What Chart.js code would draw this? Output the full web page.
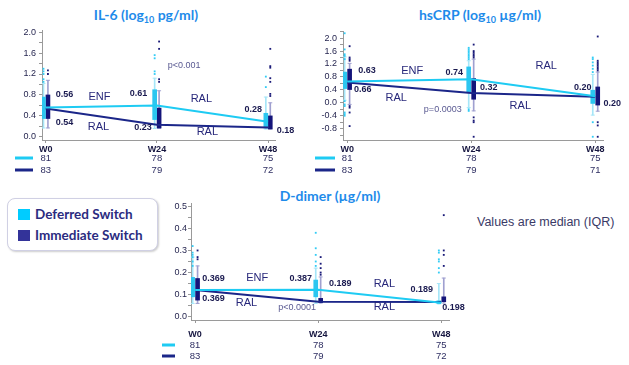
<!DOCTYPE html>
<html><head><meta charset="utf-8">
<script src="https://cdn.jsdelivr.net/npm/chart.js@4.4.1/dist/chart.umd.min.js"></script>
<style>
html,body{margin:0;padding:0;background:#fff;}
body{width:629px;height:365px;position:relative;overflow:hidden;font-family:'Liberation Sans',Arial,sans-serif;}
canvas{position:absolute;}
.title{position:absolute;font-family:Lato,'Open Sans',sans-serif;font-weight:700;color:#1E8BEA;font-size:14px;line-height:14px;white-space:nowrap;transform:translateX(-50%);}
.title sub{font-size:9px;line-height:0;vertical-align:-3px;}
#legend{position:absolute;left:7px;top:198px;width:149px;height:51px;border:1px solid #d0d0e4;border-radius:8px;box-shadow:1px 1px 2px rgba(0,0,0,0.2);background:#fff;}
.li{position:absolute;left:10px;font-family:Lato,'Open Sans',sans-serif;font-weight:700;font-size:13.5px;color:#2B2B80;white-space:nowrap;line-height:14px;}
.sw{display:inline-block;width:12px;height:11px;margin-right:5px;vertical-align:-1px;}
#note{position:absolute;left:477px;top:215px;font-size:12.5px;color:#3a3a66;white-space:nowrap;}
</style></head><body>
<div class="title" style="left:146px;top:8px">IL-6 (log<sub>10</sub> pg/ml)</div>
<div class="title" style="left:480px;top:8px">hsCRP (log<sub>10</sub> µg/ml)</div>
<div class="title" style="left:330px;top:189px">D-dimer (µg/ml)</div>
<div id="legend">
  <div class="li" style="top:8px"><span class="sw" style="background:#00CCFF"></span>Deferred Switch</div>
  <div class="li" style="top:29px"><span class="sw" style="background:#333399"></span>Immediate Switch</div>
</div>
<div id="note">Values are median (IQR)</div>
<canvas id="c1" width="300" height="180" style="left:0;top:0"></canvas>
<canvas id="c2" width="324" height="180" style="left:305px;top:0"></canvas>
<canvas id="c3" width="320" height="180" style="left:150px;top:185px"></canvas>
<script>
// ---------- data ----------
const weeks = [0, 24, 48];
const weekLabels = ['W0', 'W24', 'W48'];

// IL-6 (log10 pg/ml)
const il6DefMedian = [0.56, 0.60, 0.29];
const il6ImmMedian = [0.54, 0.23, 0.18];
const il6DefQ1 = [0.35, 0.33, 0.17];
const il6DefQ3 = [0.76, 0.90, 0.45];
const il6DefLo = [0.17, 0.16, 0.15];
const il6DefHi = [1.02, 1.12, 0.76];
const il6ImmQ1 = [0.35, 0.17, 0.15];
const il6ImmQ3 = [0.80, 0.55, 0.40];
const il6ImmLo = [0.17, 0.16, 0.15];
const il6ImmHi = [1.08, 0.88, 0.65];
const il6DefOut = [[1.05, 1.1, 1.2, 1.25, 1.3], [1.2, 1.25, 1.5, 1.56], [0.95, 1.15]];
const il6ImmOut = [[1.2, 1.27], [1.05, 1.1, 1.68, 1.82], [0.78, 0.82, 1.05, 1.12, 1.32, 1.35, 1.68]];
const il6DefN = [81, 78, 75];
const il6ImmN = [83, 79, 72];

// hsCRP (log10 ug/ml)
const crpDefMedian = [0.66, 0.73, 0.20];
const crpImmMedian = [0.63, 0.30, 0.19];
const crpDefQ1 = [0.44, 0.34, -0.02];
const crpDefQ3 = [0.95, 1.11, 0.39];
const crpDefLo = [0.08, -0.15, -0.38];
const crpDefHi = [1.42, 1.30, 0.88];
const crpImmQ1 = [0.41, 0.11, -0.07];
const crpImmQ3 = [1.04, 0.75, 0.49];
const crpImmLo = [-0.05, -0.25, -0.26];
const crpImmHi = [1.22, 1.35, 0.95];
const crpDefOut = [[2.15, 1.65, 1.5, 1.45, 1.35, 0.05, -0.05, -0.1, -0.3, -0.35, -0.4],
                   [1.35, 1.4, 1.45, 1.5, 1.55, 1.6, 1.65, 1.7, -0.2, -0.25],
                   [0.95, 1.05, 1.15, 1.25, 1.35, 1.4, -0.6, -1.05]];
const crpImmOut = [[1.3, 1.35, 1.4, 1.75, -0.1, -0.15, -0.3, -0.72],
                   [1.4, 1.45, 1.5, 1.55, 1.6, 1.8, -0.45, -0.55, -0.6, -1.05],
                   [1.0, 1.05, 1.1, 1.15, 1.2, 1.25, 1.3, 2.05, -0.6, -0.7, -1.05]];
const crpDefN = [81, 78, 75];
const crpImmN = [83, 79, 71];

// D-dimer (ug/ml)
const ddDefMedian = [0.121, 0.122, 0.063];
const ddImmMedian = [0.121, 0.068, 0.066];
const ddDefQ1 = [0.09, 0.09, 0.06];
const ddDefQ3 = [0.178, 0.166, 0.072];
const ddDefLo = [0.06, 0.06, 0.058];
const ddDefHi = [0.27, 0.22, 0.15];
const ddImmQ1 = [0.075, 0.064, 0.068];
const ddImmQ3 = [0.173, 0.083, 0.09];
const ddImmLo = [0.06, 0.062, 0.062];
const ddImmHi = [0.23, 0.18, 0.175];
const ddDefOut = [[0.23, 0.25, 0.27, 0.28, 0.29, 0.32], [0.23, 0.25, 0.28, 0.31, 0.38], [0.2, 0.22, 0.25, 0.26, 0.29, 0.3]];
const ddImmOut = [[0.26, 0.27, 0.3], [0.19, 0.2, 0.22, 0.24, 0.27], [0.23, 0.28, 0.3, 0.46]];
const ddDefN = [81, 78, 75];
const ddImmN = [83, 79, 72];

// ---------- styling ----------
const DEF = {line:'#1ECBF3', box:'#2CC6F0', light:'#A6E6F8', dot:'#33CCF5'};
const IMM = {line:'#1B2689', box:'#14147A', light:'#A0A0D0', dot:'#1A1A78'};
const OFF = 0.48;

function group(med, q1, q3, lo, hi, out, C, sign) {
  const xo = w => w + sign * OFF;
  return [
    {type:'line', data: weeks.map((w,i)=>({x:w, y:med[i]})), borderColor:C.line, borderWidth:2, pointRadius:0, fill:false, order:0, clip:false},
    {type:'bar', data: weeks.map((w,i)=>({x:xo(w), y:[q1[i], q3[i]]})), backgroundColor:C.box, barThickness:4, grouped:false, order:2},
    {type:'bar', data: weeks.map((w,i)=>({x:xo(w), y:[lo[i], hi[i]]})), backgroundColor:C.light, barThickness:1, grouped:false, order:3},
    {type:'scatter', data: weeks.flatMap((w,i)=>[{x:xo(w), y:lo[i]}, {x:xo(w), y:hi[i]}]), pointStyle:'line', pointRadius:2, borderColor:C.light, borderWidth:1, order:2},
    {type:'scatter', data: weeks.flatMap((w,i)=>out[i].map(v=>({x:xo(w), y:v}))), pointStyle:'rect', pointRadius:1.3, backgroundColor:C.dot, borderWidth:0, order:1, clip:false}
  ];
}

const FONTS = {
  n: {font:'bold 9px "Liberation Sans", Arial', color:'#1a1a50'},
  l: {font:'11px "Liberation Sans", Arial', color:'#27277a'},
  p: {font:'9px "Liberation Sans", Arial', color:'#5a5a92'}
};

function panelPlugin(cfg) {
  return {
    id: 'panelText',
    afterDraw(chart) {
      const ctx = chart.ctx, xs = chart.scales.x, ys = chart.scales.y;
      ctx.save();
      ctx.textBaseline = 'middle';
      cfg.notes.forEach(n => {
        const f = FONTS[n.s];
        ctx.font = f.font; ctx.fillStyle = f.color; ctx.textAlign = n.a;
        ctx.fillText(n.t, xs.getPixelForValue(n.x), ys.getPixelForValue(n.y));
      });
      // sample size rows
      const b = chart.chartArea.bottom, L = chart.chartArea.left;
      [[cfg.defN, DEF.line, cfg.rows[0]], [cfg.immN, IMM.line, cfg.rows[1]]].forEach(([arr, col, dy]) => {
        const y = b + dy;
        ctx.strokeStyle = col; ctx.lineWidth = 3;
        ctx.beginPath(); ctx.moveTo(L + cfg.leg[0], y); ctx.lineTo(L + cfg.leg[1], y); ctx.stroke();
        ctx.font = '9.5px "Liberation Sans", Arial'; ctx.fillStyle = '#2e2e62'; ctx.textAlign = 'center';
        arr.forEach((v,i) => ctx.fillText(String(v), xs.getPixelForValue(weeks[i]), y));
      });
      ctx.restore();
    }
  };
}

function makeChart(id, p) {
  const yTicks = [];
  for (let k = p.kmin; k <= p.kmax; k++) yTicks.push(k);
  return new Chart(document.getElementById(id), {
    type: 'scatter',
    data: {datasets: [
      ...group(p.defMed, p.defQ1, p.defQ3, p.defLo, p.defHi, p.defOut, DEF, -1),
      ...group(p.immMed, p.immQ1, p.immQ3, p.immLo, p.immHi, p.immOut, IMM, 1)
    ]},
    options: {
      responsive:false, devicePixelRatio:1, animation:false,
      layout:{padding:p.pad},
      plugins:{legend:{display:false}, tooltip:{enabled:false}, title:{display:false}},
      scales:{
        x:{type:'linear', min:-0.8, max:49.5, offset:false,
           afterBuildTicks: s => { s.ticks = weeks.map(v=>({value:v})); },
           afterFit: s => { s.height = 20; },
           ticks:{callback: v => weekLabels[weeks.indexOf(v)] || '', font:{family:'"Liberation Sans", Arial', size:9, weight:'bold'}, color:'#161640', padding:p.xpad, maxRotation:0, autoSkip:false},
           grid:{drawOnChartArea:false, drawTicks:true, tickLength:3, color:'#999', offset:false},
           border:{color:'#9a9a9a'}},
        y:{type:'linear', min:p.ymin, max:p.ymax,
           afterBuildTicks: s => { s.ticks = yTicks.map(k=>({value:k*p.step})); },
           afterFit: s => { s.width = p.yw; },
           ticks:{callback: v => { const k = Math.round(v/p.step); return (k % 2 === 0) ? (Math.abs(v) < 1e-9 ? 0 : v).toFixed(1) : ''; },
                  font:{family:'"Liberation Sans", Arial', size:9}, color:'#262650', padding:p.ypad, autoSkip:false},
           grid:{drawOnChartArea:false, drawTicks:true, tickLength:3, color:'#999'},
           border:{color:'#9a9a9a'}}
      }
    },
    plugins:[panelPlugin(p)]
  });
}

makeChart('c1', {
  defMed:il6DefMedian, defQ1:il6DefQ1, defQ3:il6DefQ3, defLo:il6DefLo, defHi:il6DefHi, defOut:il6DefOut,
  immMed:il6ImmMedian, immQ1:il6ImmQ1, immQ3:il6ImmQ3, immLo:il6ImmLo, immHi:il6ImmHi, immOut:il6ImmOut,
  defN:il6DefN, immN:il6ImmN,
  ymin:-0.06, ymax:2.04, step:0.2, kmin:0, kmax:10, yw:42, ypad:3, xpad:1,
  pad:{left:0, right:25, top:30, bottom:20}, rows:[18, 30], leg:[-27, -9],
  notes:[
    {x:2.15, y:0.80, t:'0.56', a:'left', s:'n'},
    {x:11.6, y:0.76, t:'ENF', a:'center', s:'l'},
    {x:2.15, y:0.27, t:'0.54', a:'left', s:'n'},
    {x:11.4, y:0.19, t:'RAL', a:'center', s:'l'},
    {x:21.9, y:0.82, t:'0.61', a:'right', s:'n'},
    {x:29.9, y:1.36, t:'p<0.001', a:'center', s:'p'},
    {x:33.6, y:0.73, t:'RAL', a:'center', s:'l'},
    {x:22.9, y:0.17, t:'0.23', a:'right', s:'n'},
    {x:34.9, y:0.095, t:'RAL', a:'center', s:'l'},
    {x:46.7, y:0.53, t:'0.28', a:'right', s:'n'},
    {x:49.9, y:0.13, t:'0.18', a:'left', s:'n'}
  ]
});

makeChart('c2', {
  defMed:crpDefMedian, defQ1:crpDefQ1, defQ3:crpDefQ3, defLo:crpDefLo, defHi:crpDefHi, defOut:crpDefOut,
  immMed:crpImmMedian, immQ1:crpImmQ1, immQ3:crpImmQ3, immLo:crpImmLo, immHi:crpImmHi, immOut:crpImmOut,
  defN:crpDefN, immN:crpImmN,
  ymin:-1.15, ymax:2.22, step:0.2, kmin:-5, kmax:11, yw:38, ypad:3, xpad:1,
  pad:{left:0, right:26, top:31, bottom:20}, rows:[18, 30], leg:[-28, -8],
  notes:[
    {x:2.13, y:1.0, t:'0.63', a:'left', s:'n'},
    {x:12.6, y:0.98, t:'ENF', a:'center', s:'l'},
    {x:1.35, y:0.42, t:'0.66', a:'left', s:'n'},
    {x:9.5, y:0.15, t:'RAL', a:'center', s:'l'},
    {x:18.5, y:-0.2, t:'p=0.0003', a:'center', s:'p'},
    {x:22.4, y:0.94, t:'0.74', a:'right', s:'n'},
    {x:25.7, y:0.48, t:'0.32', a:'left', s:'n'},
    {x:38.5, y:1.14, t:'RAL', a:'center', s:'l'},
    {x:33.5, y:-0.1, t:'RAL', a:'center', s:'l'},
    {x:47.3, y:0.48, t:'0.20', a:'right', s:'n'},
    {x:49.6, y:-0.01, t:'0.20', a:'left', s:'n'}
  ]
});

makeChart('c3', {
  defMed:ddDefMedian, defQ1:ddDefQ1, defQ3:ddDefQ3, defLo:ddDefLo, defHi:ddDefHi, defOut:ddDefOut,
  immMed:ddImmMedian, immQ1:ddImmQ1, immQ3:ddImmQ3, immLo:ddImmLo, immHi:ddImmHi, immOut:ddImmOut,
  defN:ddDefN, immN:ddImmN,
  ymin:-0.015, ymax:0.515, step:0.05, kmin:0, kmax:10, yw:41, ypad:1, xpad:6,
  pad:{left:0, right:21, top:18, bottom:25}, rows:[25, 36], leg:[-29, -16],
  notes:[
    {x:1.37, y:0.175, t:'0.369', a:'left', s:'n'},
    {x:12.1, y:0.175, t:'ENF', a:'center', s:'l'},
    {x:1.37, y:0.084, t:'0.369', a:'left', s:'n'},
    {x:10.0, y:0.062, t:'RAL', a:'center', s:'l'},
    {x:19.9, y:0.040, t:'p<0.0001', a:'center', s:'p'},
    {x:22.8, y:0.175, t:'0.387', a:'right', s:'n'},
    {x:26.1, y:0.150, t:'0.189', a:'left', s:'n'},
    {x:36.9, y:0.150, t:'RAL', a:'center', s:'l'},
    {x:36.9, y:0.044, t:'RAL', a:'center', s:'l'},
    {x:46.4, y:0.125, t:'0.189', a:'right', s:'n'},
    {x:48.2, y:0.040, t:'0.198', a:'left', s:'n'}
  ]
});
</script>
</body></html>
